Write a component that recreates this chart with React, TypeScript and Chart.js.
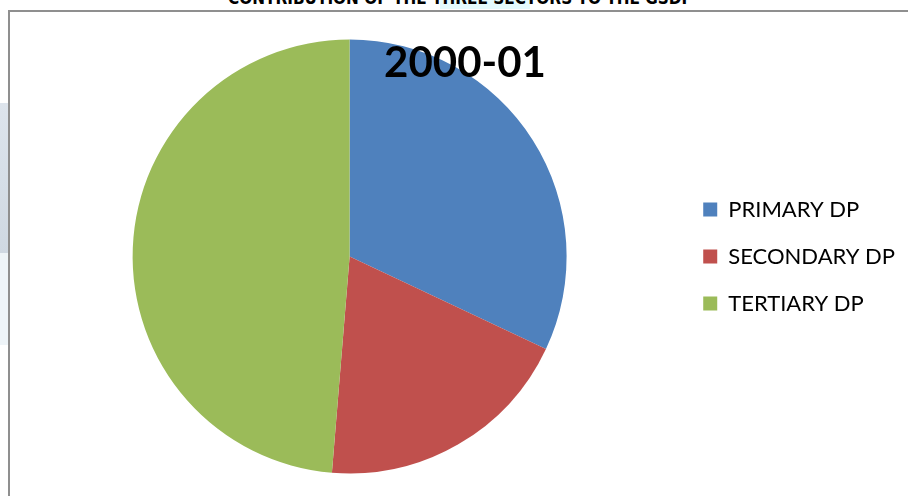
import React, { useEffect, useRef } from "react";
import { Chart, registerables } from "chart.js";

Chart.register(...registerables);

const categories = ["PRIMARY DP", "SECONDARY DP", "TERTIARY DP"];
const shares = [32.0, 19.3, 48.7];
const colors = ["#4F81BD", "#C0504D", "#9BBB59"];
const chartTitle = "2000-01";
const pageTitle = "CONTRIBUTION OF THE THREE SECTORS TO THE GSDP";

const titlePlugin = {
  id: "overlayTitles",
  afterDraw(chart: any) {
    const ctx = chart.ctx;
    ctx.save();
    ctx.fillStyle = "#000";
    ctx.textAlign = "center";
    ctx.textBaseline = "alphabetic";
    ctx.font = "bold 42px Lato, 'Open Sans', sans-serif";
    ctx.fillText(chartTitle, 465, 77);
    ctx.restore();
  },
};

export default function App() {
  const ref = useRef<HTMLCanvasElement | null>(null);
  useEffect(() => {
    if (!ref.current) return;
    const chart = new Chart(ref.current, {
      type: "pie",
      data: {
        labels: categories,
        datasets: [
          {
            data: shares,
            backgroundColor: colors,
            borderWidth: 0,
          },
        ],
      },
      options: {
        responsive: false,
        animation: false,
        layout: { padding: { left: 21, right: 35, top: 39.5, bottom: 22.5 } },
        plugins: {
          title: { display: false },
          tooltip: { enabled: false },
          legend: {
            position: "right",
            align: "center",
            labels: {
              boxWidth: 14,
              boxHeight: 14,
              padding: 25,
              color: "#000",
              font: { family: "Lato, 'Open Sans', sans-serif", size: 22 },
            },
          },
        },
      },
      plugins: [titlePlugin],
    });
    return () => chart.destroy();
  }, []);

  return (
    <div
      style={{
        position: "fixed",
        left: 0,
        top: 0,
        width: 908,
        height: 496,
        overflow: "hidden",
        background: "#fff",
      }}
    >
      <div
        style={{
          position: "absolute",
          left: 0,
          top: 103,
          width: 8,
          height: 150,
          background: "linear-gradient(#dde4ec, #cfd8e2)",
        }}
      />
      <div
        style={{
          position: "absolute",
          left: 0,
          top: 253,
          width: 8,
          height: 92,
          background: "#eef4f8",
        }}
      />
      <div
        style={{
          position: "absolute",
          left: 440,
          top: 0,
          width: 90,
          height: 9,
          background: "#e4fbfd",
        }}
      />
      <div
        style={{
          position: "absolute",
          left: 228,
          top: -12,
          width: 462,
          height: 20,
          lineHeight: "20px",
          fontFamily: "'Liberation Sans Narrow', 'DejaVu Sans Condensed', 'Liberation Sans', sans-serif",
          fontWeight: "bold",
          fontSize: 17,
          whiteSpace: "nowrap",
          textAlign: "center",
          color: "#000",
        }}
      >
        {pageTitle}
      </div>
      <div
        style={{
          position: "absolute",
          left: 8,
          top: 10,
          width: 920,
          height: 520,
          borderLeft: "2px solid #8f8f8f",
          borderTop: "2px solid #8f8f8f",
        }}
      />
      <canvas
        ref={ref}
        width={940}
        height={496}
        style={{ position: "absolute", left: 0, top: 0, width: 940, height: 496 }}
      />
    </div>
  );
}
